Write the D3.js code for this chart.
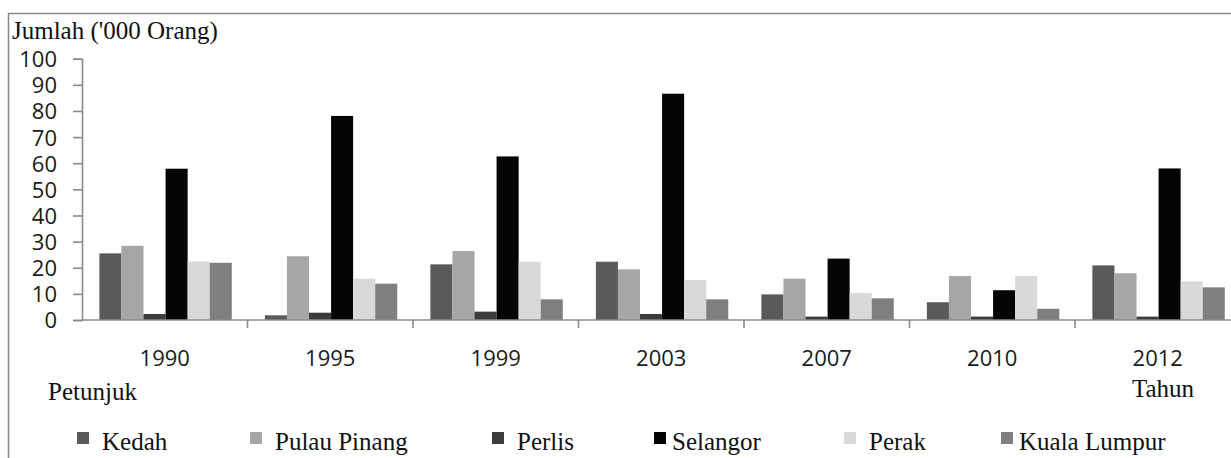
<!DOCTYPE html>
<html>
<head>
<meta charset="utf-8">
<script src="https://cdn.jsdelivr.net/npm/d3@7"></script>
<style>
  body { margin: 0; background: #fff; }
  svg { display: block; }
</style>
</head>
<body>
<svg id="chart"></svg>
<script>
// data
const years = ['1990', '1995', '1999', '2003', '2007', '2010', '2012'];
const states = ['Kedah', 'Pulau Pinang', 'Perlis', 'Selangor', 'Perak', 'Kuala Lumpur'];
const kedah = [25.5, 1.8, 21.3, 22.3, 9.8, 6.8, 20.9];
const pulauPinang = [28.4, 24.4, 26.4, 19.4, 15.8, 16.8, 17.9];
const perlis = [2.3, 2.8, 3.2, 2.3, 1.3, 1.3, 1.3];
const selangor = [57.9, 78.1, 62.6, 86.6, 23.5, 11.4, 58.0];
const perak = [22.4, 15.8, 22.3, 15.3, 10.3, 16.8, 14.8];
const kualaLumpur = [21.9, 13.9, 7.9, 7.9, 8.3, 4.3, 12.5];
const yTicks = [0, 10, 20, 30, 40, 50, 60, 70, 80, 90, 100];

const seriesValues = [kedah, pulauPinang, perlis, selangor, perak, kualaLumpur];
const colors = ['#5a5a5a', '#a6a6a6', '#3c3c3c', '#050505', '#d9d9d9', '#7f7f7f'];
const legendX = [77, 250, 492, 654, 844, 1001];

const W = 1231, H = 458;
const axisColor = '#8a8a8a';
const serifFont = "'Liberation Serif'";
const numFont = "'Open Sans'";

const svg = d3.select('#chart')
  .attr('width', W)
  .attr('height', H);

// frame (left + top only, picture is cropped)
svg.append('path')
  .attr('d', `M8.5,${H} V13.5 H${W}`)
  .attr('fill', 'none')
  .attr('stroke', '#888')
  .attr('stroke-width', 1.5);

const x0 = d3.scaleBand()
  .domain(years)
  .range([82, 82 + 7 * 165.5])
  .padding(0);

const x1 = d3.scaleBand()
  .domain(states)
  .range([x0.bandwidth() * 0.105, x0.bandwidth() * 0.905])
  .padding(0);

const y = d3.scaleLinear()
  .domain([0, 100])
  .range([320, 58.7]);

// bars
const groups = svg.append('g')
  .selectAll('g')
  .data(years)
  .enter()
  .append('g')
  .attr('transform', d => `translate(${x0(d)},0)`);

groups.selectAll('rect')
  .data((yr, i) => states.map((s, j) => ({ state: s, value: seriesValues[j][i], color: colors[j] })))
  .enter()
  .append('rect')
  .attr('x', d => x1(d.state))
  .attr('y', d => y(d.value))
  .attr('width', x1.bandwidth())
  .attr('height', d => y(0) - y(d.value))
  .attr('fill', d => d.color);

// y axis
const yAxis = svg.append('g')
  .attr('transform', 'translate(82,0)')
  .call(d3.axisLeft(y).tickValues(yTicks).tickSize(9).tickPadding(16));
yAxis.select('.domain').attr('stroke', axisColor).attr('stroke-width', 1.6);
yAxis.selectAll('.tick line').attr('stroke', axisColor).attr('stroke-width', 1.6);
yAxis.selectAll('.tick text')
  .attr('fill', '#1a1a1a')
  .style('font-family', numFont)
  .style('font-size', '22px')
  .attr('dy', '0.36em');

// x axis
const xAxis = svg.append('g')
  .attr('transform', 'translate(0,320)');
xAxis.append('line')
  .attr('x1', 82).attr('x2', W)
  .attr('y1', 0).attr('y2', 0)
  .attr('stroke', axisColor)
  .attr('stroke-width', 1.6);
xAxis.selectAll('line.tick')
  .data(years)
  .enter()
  .append('line')
  .attr('class', 'tick')
  .attr('x1', d => x0(d) + x0.bandwidth())
  .attr('x2', d => x0(d) + x0.bandwidth())
  .attr('y1', 0).attr('y2', 8)
  .attr('stroke', axisColor)
  .attr('stroke-width', 1.6);
xAxis.selectAll('text')
  .data(years)
  .enter()
  .append('text')
  .attr('x', d => x0(d) + x0.bandwidth() / 2)
  .attr('y', 46)
  .attr('text-anchor', 'middle')
  .attr('fill', '#1a1a1a')
  .style('font-family', numFont)
  .style('font-size', '22px')
  .text(d => d);

function serifText(x, yPos, str) {
  svg.append('text')
    .attr('x', x)
    .attr('y', yPos)
    .attr('fill', '#111')
    .style('font-family', serifFont)
    .style('font-size', '25px')
    .text(str);
}
serifText(12, 39, "Jumlah ('000 Orang)");
serifText(48, 400, 'Petunjuk');
serifText(1132, 397, 'Tahun');

// legend
const legend = svg.append('g')
  .selectAll('g')
  .data(states)
  .enter()
  .append('g')
  .attr('transform', (d, i) => `translate(${legendX[i]},0)`);

legend.append('rect')
  .attr('x', 0)
  .attr('y', 432)
  .attr('width', 12)
  .attr('height', 12)
  .attr('fill', (d, i) => colors[i]);

legend.append('text')
  .attr('x', (d, i) => i === 3 || i === 5 ? 18 : 25)
  .attr('y', 450)
  .attr('fill', '#111')
  .style('font-family', serifFont)
  .style('font-size', '25px')
  .text(d => d);
</script>
</body>
</html>
